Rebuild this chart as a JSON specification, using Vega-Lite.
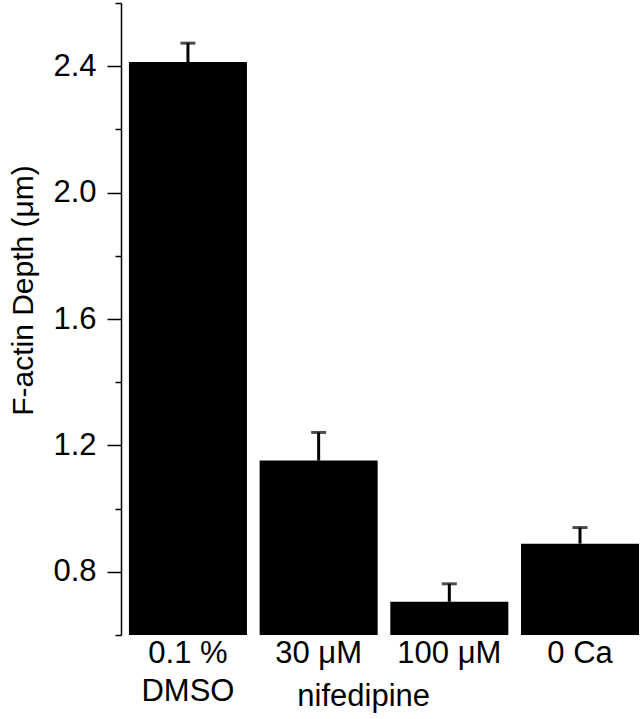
{
  "$schema": "https://vega.github.io/schema/vega-lite/v6.json",
  "width": 520,
  "height": 632,
  "autosize": {"type": "none"},
  "padding": {"left": 121, "top": 3, "right": 0, "bottom": 84},
  "background": "white",
  "config": {"view": {"stroke": null}, "font": "Liberation Sans"},
  "datasets": {
    "bars": [
      {"group": "0.1 %", "mean": 2.413, "upper": 2.473},
      {"group": "30 μM", "mean": 1.152, "upper": 1.241},
      {"group": "100 μM", "mean": 0.705, "upper": 0.762},
      {"group": "0 Ca", "mean": 0.889, "upper": 0.94}
    ],
    "note": [{"group": "30 μM", "text": "nifedipine"}]
  },
  "layer": [
    {
      "data": {"name": "bars"},
      "mark": {"type": "bar", "color": "black"},
      "encoding": {
        "x": {
          "field": "group", "type": "nominal", "sort": null,
          "scale": {"domain": ["0.1 %", "30 μM", "100 μM", "0 Ca"], "paddingInner": 0.097, "paddingOuter": 0.038, "align": 0.8},
          "axis": {
            "title": null, "domain": false, "ticks": false, "labelAngle": 0,
            "labelFontSize": 31, "labelColor": "black", "labelPadding": 3,
            "labelLineHeight": 38,
            "labelExpr": "datum.value == '0.1 %' ? ['0.1 %', 'DMSO'] : datum.value"
          }
        },
        "y": {
          "field": "mean", "type": "quantitative",
          "title": "F-actin Depth (μm)",
          "scale": {"domain": [0.6, 2.6], "zero": false, "nice": false},
          "axis": {
            "values": [0.6, 0.8, 1.0, 1.2, 1.4, 1.6, 1.8, 2.0, 2.2, 2.4, 2.6],
            "labelExpr": "round(datum.value*10) % 4 == 0 ? format(datum.value, '.1f') : ''",
            "grid": false,
            "domainColor": "black", "domainWidth": 1.5,
            "tickColor": "black", "tickWidth": 1.5,
            "tickSize": {"condition": {"test": "round(datum.value*10) % 4 == 0", "value": 14}, "value": 6},
            "labelPadding": 11, "labelFontSize": 31, "labelColor": "black",
            "titleFontSize": 30, "titleFontWeight": "normal", "titleColor": "black",
            "titlePadding": 14, "titleY": 287
          }
        },
        "y2": {"datum": 0.6}
      }
    },
    {
      "data": {"name": "bars"},
      "mark": {"type": "rule", "color": "black", "strokeWidth": 3},
      "encoding": {
        "x": {"field": "group", "type": "nominal", "sort": null},
        "y": {"field": "mean", "type": "quantitative"},
        "y2": {"field": "upper"}
      }
    },
    {
      "data": {"name": "bars"},
      "mark": {"type": "tick", "color": "black", "size": 15, "thickness": 3, "orient": "horizontal"},
      "encoding": {
        "x": {"field": "group", "type": "nominal", "sort": null},
        "y": {"field": "upper", "type": "quantitative"}
      }
    },
    {
      "data": {"name": "note"},
      "mark": {"type": "text", "fontSize": 31, "color": "black", "dx": 45, "dy": 71, "baseline": "alphabetic", "align": "center"},
      "encoding": {
        "x": {"field": "group", "type": "nominal", "sort": null},
        "y": {"datum": 0.6},
        "text": {"field": "text"}
      }
    }
  ]
}
